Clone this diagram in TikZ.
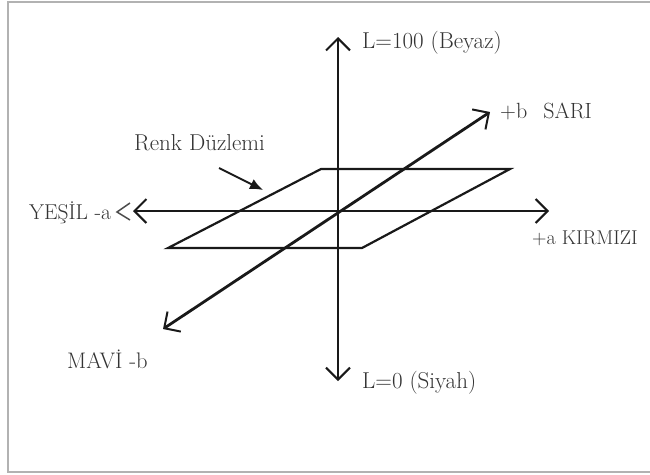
\documentclass[tikz,border=0pt]{standalone}
\usetikzlibrary{arrows.meta}
\begin{document}
\begin{tikzpicture}[x=1pt,y=-1pt,
  barb/.tip={Straight Barb[length=12pt,width=24pt,line width=2pt]},
  axis/.style={line width=2.8pt, draw=black!90, barb-barb},
  plane/.style={line width=2.2pt, draw=black!90, line join=miter},
  lbl/.style={font=\fontsize{23}{26}\selectfont, inner sep=0pt, anchor=west, text=black!80},
  caps/.style={lbl, font=\fontsize{#1}{24}\selectfont}]
\useasboundingbox (0,0) rectangle (650,474);
\draw[black!30, line width=2pt] (7.5,1.5) rectangle (651,471.5);
% coordinates
\coordinate (O) at (338,211);
\coordinate (Ltop) at (338,37);
\coordinate (Lbot) at (338,381);
\coordinate (Aneg) at (133,211);
\coordinate (Apos) at (549,211);
\coordinate (Bpos) at (490,112);
\coordinate (Bneg) at (163,329);
\coordinate (P1) at (321,169);
\coordinate (P2) at (510,169);
\coordinate (P3) at (362,248);
\coordinate (P4) at (168,248);
% plane
\draw[plane] (P1) -- (P2) -- (P3) -- (P4) -- cycle;
% axes
\draw[axis] (Lbot) -- (Ltop);
\draw[axis] (Aneg) -- (Apos);
\draw[axis] (Bneg) -- (Bpos);
% extra chevron near YESIL
\draw[black!70, line width=1.5pt] (130,203) -- (117,212) -- (130,220);
% labels
\node[lbl] (l100) at (362,43) {L=100 (Beyaz)};
\node[lbl] (l0) at (362,383) {L=0 (Siyah)};
\node[caps=22] (bpos) at (500,111) {+b\hspace{16pt}SARI};
\node[caps=20] (apos) at (532,238) {+a KIRMIZI};
\node[caps=21.5] (aneg) at (29,213) {YE\c{S}\.IL -a};
\node[caps=22.5] (bneg) at (67,359) {MAV\.I -b};
\node[lbl] (renk) at (134,143) {Renk D\"uzlemi};
\coordinate (rs) at (219,168);
\coordinate (re) at (263,190);
\draw[line width=2pt, black!90, -{Latex[length=13pt,width=11pt]}] (rs) -- (re);
\end{tikzpicture}
\end{document}
